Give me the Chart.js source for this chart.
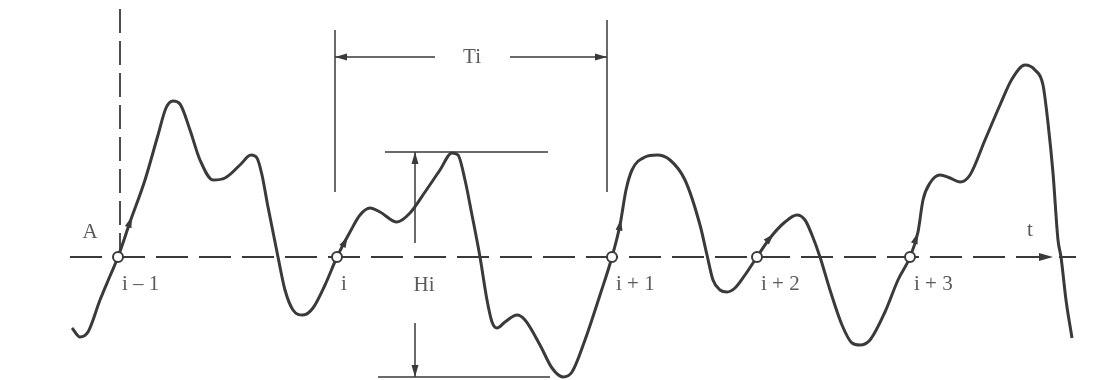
<!DOCTYPE html>
<html>
<head>
<meta charset="utf-8">
<script src="https://cdn.jsdelivr.net/npm/chart.js@4/dist/chart.umd.min.js"></script>
<style>
  html, body { margin: 0; padding: 0; background: #fff; }
  #wrap { width: 1109px; height: 380px; }
</style>
</head>
<body>
<div id="wrap"><canvas id="wave" width="1109" height="380"></canvas></div>
<script>
// wave record: time t and surface elevation (above mean level)
const waveTime = [72, 80, 88, 100, 110, 118, 130, 145, 158, 166, 173, 180, 190, 200, 213, 225, 240, 251, 257, 262, 268, 278, 285, 293, 303, 313, 325, 337,
  350, 360, 370, 380, 397, 410, 425, 440, 452, 458, 465, 472, 480, 487, 492, 497, 505, 517, 525, 540, 552, 563, 572, 585, 600, 612,
  620, 626, 632, 645, 657, 670, 685, 700, 707, 713, 720, 727, 735, 745, 757, 770, 785, 797, 805, 812, 820, 830, 842, 852, 860, 870, 885, 898, 910,
  918, 923, 930, 940, 950, 960, 970, 985, 1000, 1012, 1025, 1035, 1043, 1048, 1053, 1058, 1061, 1066, 1072];
const waveElevation = [-71, -80, -75, -43, -19, 0, 35, 77, 122, 149, 156, 153, 127, 97, 77, 79, 92, 102, 99, 82, 50, 0, -33, -53, -58, -51, -28, 0,
  25, 42, 49, 45, 35, 44, 65, 87, 104, 102, 77, 42, 0, -43, -65, -71, -65, -58, -63, -88, -111, -120, -115, -83, -38, 0,
  32, 67, 87, 100, 102, 97, 77, 32, 2, -23, -33, -35, -31, -18, 0, 19, 35, 42, 37, 22, 0, -33, -68, -86, -88, -83, -55, -23, 0,
  25, 57, 74, 82, 79, 75, 82, 117, 152, 178, 192, 187, 172, 134, 84, 17, 0, -43, -81];

// zero up-crossings and their labels
const crossingTimes = [118, 337, 612, 757, 910];
const crossingLabels = ["i \u2013 1", "i", "i + 1", "i + 2", "i + 3"];
// little direction arrows drawn on the curve just after each up-crossing
const arrowTimes = [130, 345, 620, 770, 916];
// crest and trough of wave i
const crestHeight = 105;
const troughDepth = -120;

const ink = "#3a3a3a";
const textColor = "#5a5a5a";
const serif = "'Liberation Serif', 'DejaVu Serif', serif";

function etaAt(t) {
  for (let k = 1; k < waveTime.length; k++) {
    if (t <= waveTime[k]) {
      const f = (t - waveTime[k - 1]) / (waveTime[k] - waveTime[k - 1]);
      return waveElevation[k - 1] + f * (waveElevation[k] - waveElevation[k - 1]);
    }
  }
  return waveElevation[waveElevation.length - 1];
}

function arrowHead(ctx, x, y, ang, len, half) {
  ctx.save();
  ctx.translate(x, y);
  ctx.rotate(ang);
  ctx.beginPath();
  ctx.moveTo(len / 2, 0);
  ctx.lineTo(-len / 2, -half);
  ctx.lineTo(-len / 2, half);
  ctx.closePath();
  ctx.fill();
  ctx.restore();
}

const sketch = {
  id: "sketch",
  beforeDatasetsDraw(chart) {
    const { ctx, scales: { x, y } } = chart;
    const y0 = y.getPixelForValue(0);
    ctx.save();
    ctx.strokeStyle = ink;
    ctx.fillStyle = ink;
    // mean water level, dashed, with arrow
    ctx.lineWidth = 1.8;
    ctx.setLineDash([32, 11]);
    ctx.beginPath();
    ctx.moveTo(x.getPixelForValue(70), y0);
    ctx.lineTo(x.getPixelForValue(1076), y0);
    ctx.stroke();
    ctx.setLineDash([]);
    arrowHead(ctx, x.getPixelForValue(1046), y0, 0, 14, 4);
    // vertical dashed line through first crossing
    ctx.setLineDash([24, 8]);
    ctx.beginPath();
    ctx.moveTo(x.getPixelForValue(crossingTimes[0] + 2), y.getPixelForValue(248));
    ctx.lineTo(x.getPixelForValue(crossingTimes[0] + 2), y0);
    ctx.stroke();
    ctx.setLineDash([]);

    // Ti dimension
    ctx.lineWidth = 1.5;
    const xa = x.getPixelForValue(crossingTimes[1] - 2);
    const xb = x.getPixelForValue(crossingTimes[2] - 5);
    ctx.beginPath();
    ctx.moveTo(xa, y.getPixelForValue(227)); ctx.lineTo(xa, y.getPixelForValue(65));
    ctx.moveTo(xb, y.getPixelForValue(237)); ctx.lineTo(xb, y.getPixelForValue(65));
    const yt = y.getPixelForValue(200);
    ctx.moveTo(xa, yt); ctx.lineTo(x.getPixelForValue(435), yt);
    ctx.moveTo(x.getPixelForValue(510), yt); ctx.lineTo(xb, yt);
    ctx.stroke();
    arrowHead(ctx, xa + 6, yt, Math.PI, 12, 3.5);
    arrowHead(ctx, xb - 6, yt, 0, 12, 3.5);

    // Hi dimension
    const yc = y.getPixelForValue(crestHeight);
    const ytr = y.getPixelForValue(troughDepth);
    const xh = x.getPixelForValue(415);
    ctx.beginPath();
    ctx.moveTo(x.getPixelForValue(385), yc); ctx.lineTo(x.getPixelForValue(548), yc);
    ctx.moveTo(x.getPixelForValue(378), ytr); ctx.lineTo(x.getPixelForValue(550), ytr);
    ctx.moveTo(xh, yc); ctx.lineTo(xh, y.getPixelForValue(14));
    ctx.moveTo(xh, y.getPixelForValue(-66)); ctx.lineTo(xh, ytr);
    ctx.stroke();
    arrowHead(ctx, xh, yc + 6, -Math.PI / 2, 12, 3.5);
    arrowHead(ctx, xh, ytr - 6, Math.PI / 2, 12, 3.5);

    // text
    ctx.fillStyle = textColor;
    ctx.font = "21px " + serif;
    ctx.textBaseline = "middle";
    ctx.textAlign = "left";
    crossingLabels.forEach((lab, k) => {
      ctx.fillText(lab, x.getPixelForValue(crossingTimes[k] + 4), y.getPixelForValue(-27));
    });
    ctx.textAlign = "center";
    ctx.fillText("Ti", x.getPixelForValue(472), yt);
    ctx.fillText("Hi", x.getPixelForValue(424), y.getPixelForValue(-28));
    ctx.fillText("A", x.getPixelForValue(90), y.getPixelForValue(25));
    ctx.fillText("t", x.getPixelForValue(1030), y.getPixelForValue(27));
    ctx.restore();
  },
  afterDatasetsDraw(chart) {
    const { ctx, scales: { x, y } } = chart;
    ctx.save();
    ctx.fillStyle = ink;
    arrowTimes.forEach(t => {
      const px = x.getPixelForValue(t), py = y.getPixelForValue(etaAt(t));
      const qx = x.getPixelForValue(t + 2), qy = y.getPixelForValue(etaAt(t + 2));
      arrowHead(ctx, px, py, Math.atan2(qy - py, qx - px), 11, 3.5);
    });
    ctx.restore();
  }
};

new Chart(document.getElementById("wave"), {
  type: "line",
  data: {
    datasets: [
      {
        type: "scatter",
        data: crossingTimes.map(t => ({ x: t, y: 0 })),
        pointRadius: 5,
        pointBackgroundColor: "#fff",
        pointBorderColor: ink,
        pointBorderWidth: 2,
        order: 0
      },
      {
        data: waveTime.map((t, k) => ({ x: t, y: waveElevation[k] })),
        borderColor: ink,
        borderWidth: 3,
        pointRadius: 0,
        cubicInterpolationMode: "monotone",
        fill: false,
        order: 1
      }
    ]
  },
  options: {
    responsive: false,
    animation: false,
    events: [],
    layout: { padding: 0, autoPadding: false },
    plugins: { legend: { display: false }, tooltip: { enabled: false } },
    scales: {
      x: { type: "linear", display: false, min: 0, max: 1109 },
      y: { type: "linear", display: false, min: -123, max: 257 }
    }
  },
  plugins: [sketch]
});
</script>
</body>
</html>
